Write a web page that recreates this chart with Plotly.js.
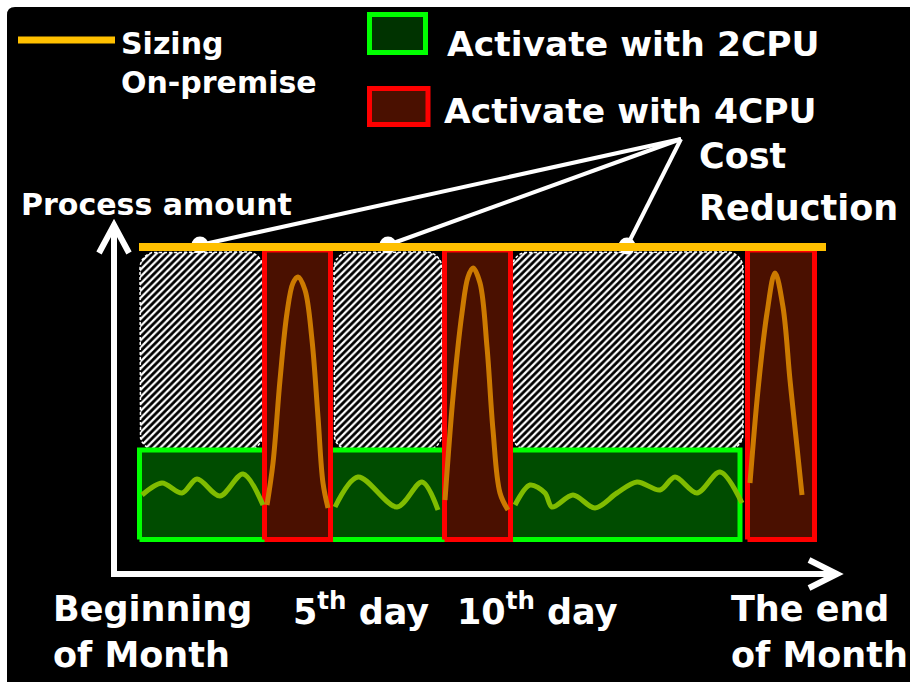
<!DOCTYPE html>
<html>
<head>
<meta charset="utf-8">
<script src="https://cdn.plot.ly/plotly-3.0.1.min.js"></script>
<style>html,body{margin:0;padding:0;background:#fff;}#chart{width:910px;height:682px;}</style>
</head>
<body>
<div id="chart"></div>
<script>
// ---- Data (time index on x, process amount on y) ----
const sizingX = [139, 826];
const sizingY = [435, 435];

// 2CPU active band
const cpu2Start = [139.5];
const cpu2End = [740];
const cpu2Low = 142.5;
const cpu2High = 232;

// 4CPU active bands
const cpu4Start = [264.5, 444.5, 747.5];
const cpu4End = [330.5, 510.5, 814.5];
const cpu4Low = 142.5;
const cpu4High = 432;

// Cost reduction (unused capacity) areas
const savingStart = [140, 334, 512];
const savingEnd = [263, 442, 743];
const savingLow = 232;
const savingHigh = 430;

// Low load during 2CPU periods
const lowX1 = [142, 162, 182, 197, 220, 243, 263];
const lowY1 = [187, 199, 189, 203, 186, 208, 177];
const lowX2 = [335, 358, 397, 422, 438];
const lowY2 = [175, 205, 175, 200, 172];
const lowX3 = [515, 530, 545, 552, 573, 595, 617, 637, 660, 675, 697, 720, 742];
const lowY3 = [177, 197, 189, 175, 187, 174, 189, 200, 192, 205, 189, 210, 179];

// Peak load during 4CPU periods
const peakX1 = [267, 273, 280, 287, 293, 298, 305, 312, 318, 323, 328];
const peakY1 = [177, 219, 302, 369, 399, 405, 392, 342, 265, 199, 174];
const peakX2 = [445, 453, 462, 468, 473, 480, 487, 493, 500, 508];
const peakY2 = [182, 285, 369, 405, 414, 399, 335, 252, 189, 172];
const peakX3 = [750, 758, 767, 775, 783, 790, 797, 802];
const peakY3 = [199, 292, 369, 409, 375, 302, 235, 187];

// Callout ("Cost Reduction") pointer
const calloutTip = [681, 543];
const calloutX = [200, 388, 627];
const calloutY = [437, 437, 436];

// Labels
const xLabels = [
  {x: 52, lines: ["Beginning", "of Month"]},
  {x: 292, lines: ["5<sup>th</sup> day"]},
  {x: 456, lines: ["10<sup>th</sup> day"]},
  {x: 730, lines: ["The end", "of Month"]}
];

// ---- helpers ----
function rectPaths(starts, ends, lo, hi) {
  const xs = [], ys = [];
  for (let i = 0; i < starts.length; i++) {
    xs.push(starts[i], ends[i], ends[i], starts[i], starts[i], null);
    ys.push(lo, lo, hi, hi, lo, null);
  }
  return {x: xs, y: ys};
}
function roundPaths(starts, ends, lo, hi, r) {
  const xs = [], ys = [];
  for (let i = 0; i < starts.length; i++) {
    const x0 = starts[i], x1 = ends[i];
    const corners = [[x1 - r, hi - r, 0], [x0 + r, hi - r, 90], [x0 + r, lo + r, 180], [x1 - r, lo + r, 270]];
    let fx = null, fy = null;
    corners.forEach(c => {
      for (let k = 0; k <= 6; k++) {
        const a = (c[2] + k * 15) * Math.PI / 180;
        const px = c[0] + r * Math.cos(a), py = c[1] + r * Math.sin(a);
        if (fx === null) { fx = px; fy = py; }
        xs.push(px); ys.push(py);
      }
    });
    xs.push(fx, null); ys.push(fy, null);
  }
  return {x: xs, y: ys};
}

const FONT = "DejaVu Sans, Verdana, sans-serif";
const traces = [];

const sav = roundPaths(savingStart, savingEnd, savingLow, savingHigh, 16);
traces.push({type: 'scatter', mode: 'lines', x: sav.x, y: sav.y, fill: 'toself', connectgaps: false,
  fillcolor: 'black',
  fillpattern: {shape: '/', fgcolor: 'white', bgcolor: 'black', size: 5, solidity: 0.45},
  line: {color: 'white', width: 1.5, dash: '3px,2px'}, hoverinfo: 'skip'});

const g = rectPaths(cpu2Start, cpu2End, cpu2Low, cpu2High);
traces.push({type: 'scatter', mode: 'lines', x: g.x, y: g.y, fill: 'toself', fillcolor: '#004C00',
  line: {color: '#00FF00', width: 5}, hoverinfo: 'skip'});

const r = rectPaths(cpu4Start, cpu4End, cpu4Low, cpu4High);
traces.push({type: 'scatter', mode: 'lines', x: r.x, y: r.y, fill: 'toself', fillcolor: '#4A1000',
  line: {color: '#FF0000', width: 5}, hoverinfo: 'skip'});

[[lowX1, lowY1], [lowX2, lowY2], [lowX3, lowY3]].forEach(s => {
  traces.push({type: 'scatter', mode: 'lines', x: s[0], y: s[1],
    line: {color: '#80BC00', width: 5, shape: 'spline', smoothing: 0.9}, hoverinfo: 'skip'});
});
[[peakX1, peakY1], [peakX2, peakY2], [peakX3, peakY3]].forEach(s => {
  traces.push({type: 'scatter', mode: 'lines', x: s[0], y: s[1],
    line: {color: '#CC7A00', width: 5, shape: 'spline', smoothing: 1}, hoverinfo: 'skip'});
});

const cx = [], cy = [];
calloutX.forEach((v, i) => { cx.push(calloutTip[0], v, null); cy.push(calloutTip[1], calloutY[i], null); });
traces.push({type: 'scatter', mode: 'lines', x: cx, y: cy, line: {color: 'white', width: 4}, hoverinfo: 'skip'});
traces.push({type: 'scatter', mode: 'markers', x: calloutX, y: calloutY,
  marker: {color: 'white', size: 17, line: {width: 0}}, hoverinfo: 'skip'});

traces.push({type: 'scatter', mode: 'lines', x: sizingX, y: sizingY, line: {color: '#FFC000', width: 8}, hoverinfo: 'skip'});

// ---- layout decorations ----
const shapes = [
  {type: 'path', layer: 'below', xref: 'x', yref: 'y',
   path: 'M 7 667 Q 7 675 15 675 L 915 675 L 915 -5 L 7 -5 Z',
   fillcolor: 'black', line: {width: 0}},
  // y axis arrow
  {type: 'path', xref: 'x', yref: 'y', path: 'M 114 106 L 114 458', line: {color: 'white', width: 6}},
  {type: 'path', xref: 'x', yref: 'y', path: 'M 99 429 L 114 457 L 129 429', line: {color: 'white', width: 6}},
  // x axis arrow
  {type: 'path', xref: 'x', yref: 'y', path: 'M 111 108 L 837 108', line: {color: 'white', width: 6}},
  {type: 'path', xref: 'x', yref: 'y', path: 'M 809 122 L 837 108 L 809 94', line: {color: 'white', width: 6}},
  // legend
  {type: 'line', xref: 'x', yref: 'y', x0: 18, x1: 115, y0: 642, y1: 642, line: {color: '#FFC000', width: 7}},
  {type: 'rect', xref: 'x', yref: 'y', x0: 369.5, x1: 425.5, y0: 629.5, y1: 667.5, fillcolor: '#003300', line: {color: '#00FF00', width: 5}},
  {type: 'rect', xref: 'x', yref: 'y', x0: 369.5, x1: 428, y0: 557.5, y1: 593.5, fillcolor: '#4A1000', line: {color: '#FF0000', width: 5}}
];

function txt(text, x, y, size) {
  return {text: text, x: x, y: y, xref: 'x', yref: 'y', xanchor: 'left', yanchor: 'middle', showarrow: false,
    borderpad: 0, font: {family: FONT, size: size, color: 'white', weight: 'bold'}};
}
const annotations = [
  txt('Sizing', 120, 639, 30),
  txt('On-premise', 120, 600, 30),
  txt('Activate with 2CPU', 446, 638, 34.5),
  txt('Activate with 4CPU', 443, 571, 34.5),
  txt('Cost', 698, 526, 35),
  txt('Reduction', 698, 474, 35),
  txt('Process amount', 20, 478, 30)
];
xLabels.forEach(l => {
  l.lines.forEach((s, j) => annotations.push(txt(s, l.x, 73 - j * 46, 35)));
});

Plotly.newPlot('chart', traces, {
  width: 910, height: 682,
  margin: {l: 0, r: 0, t: 0, b: 0},
  paper_bgcolor: 'white', plot_bgcolor: 'rgba(0,0,0,0)',
  showlegend: false,
  xaxis: {range: [0, 910], visible: false, fixedrange: true},
  yaxis: {range: [0, 682], visible: false, fixedrange: true},
  shapes: shapes, annotations: annotations
}, {staticPlot: true});
</script>
</body>
</html>
